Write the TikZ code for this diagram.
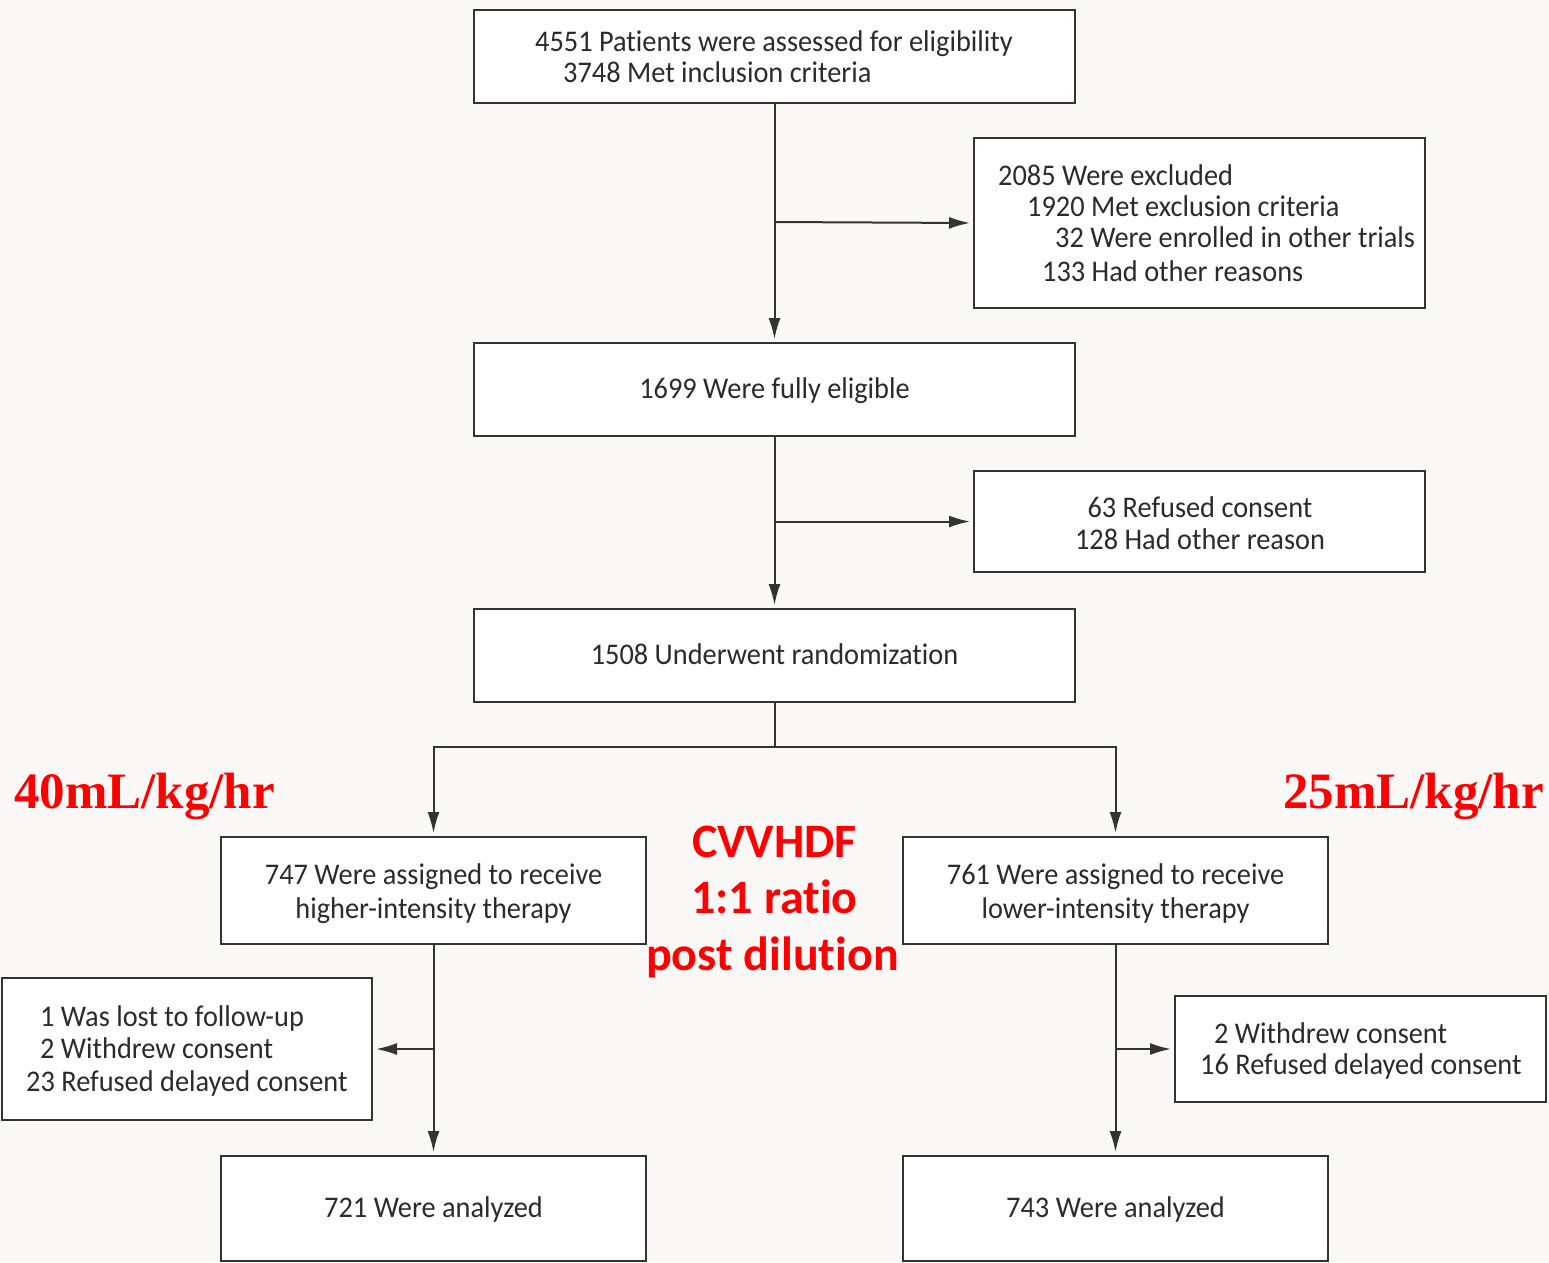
\documentclass[tikz,border=0pt]{standalone}
\usepackage{fontspec}
\usetikzlibrary{arrows.meta}
\newfontfamily\bxfont[FakeStretch=0.945,Ligatures=NoCommon]{Carlito}
\newfontfamily\redsans[Ligatures=NoCommon]{Carlito}
\newfontfamily\redserif{Liberation Serif}
\definecolor{bgc}{HTML}{F9F8F7}
\definecolor{linec}{HTML}{333333}
\definecolor{txtc}{HTML}{2B2B2B}
\definecolor{redc}{HTML}{FF0000}
\tikzset{
  box/.style={draw=linec, line width=2pt, fill=white, inner sep=0pt},
  lbl/.style={inner sep=0pt, text=txtc, font=\bxfont\fontsize{30}{30}\selectfont},
  arr/.style={draw=linec, line width=2pt, -{Latex[length=21pt,width=12pt]}, shorten >=3pt},
  ln/.style={draw=linec, line width=2pt},
  redlbl/.style={inner sep=0pt, text=redc, font=\redsans\bfseries\fontsize{48}{48}\selectfont},
  redser/.style={inner sep=0pt, text=redc, font=\redserif\bfseries\fontsize{51}{51}\selectfont}
}
\begin{document}
\begin{tikzpicture}[x=1pt,y=-1pt]
\fill[bgc] (0,0) rectangle (1549,1262);
\useasboundingbox (0,0) rectangle (1549,1262);

% boxes
\node[box, minimum width=601pt, minimum height=93pt] (b1) at (774.5,56.5) {};
\node[box, minimum width=451pt, minimum height=170pt] (excl) at (1199.5,223) {};
\node[box, minimum width=601pt, minimum height=93pt] (elig) at (774.5,389.5) {};
\node[box, minimum width=451pt, minimum height=101pt] (refu) at (1199.5,521.5) {};
\node[box, minimum width=601pt, minimum height=93pt] (rand) at (774.5,655.5) {};
\node[box, minimum width=425pt, minimum height=107pt] (la) at (433.5,890.5) {};
\node[box, minimum width=425pt, minimum height=107pt] (ra) at (1115.5,890.5) {};
\node[box, minimum width=370pt, minimum height=142pt] (lloss) at (187,1049) {};
\node[box, minimum width=371pt, minimum height=106pt] (rloss) at (1360.5,1049) {};
\node[box, minimum width=425pt, minimum height=105pt] (lan) at (433.5,1208.5) {};
\node[box, minimum width=425pt, minimum height=105pt] (ran) at (1115.5,1208.5) {};

% texts
\node[lbl, anchor=base west] (t1a) at (535,51) {4551 Patients were assessed for eligibility};
\node[lbl, anchor=base west] (t1b) at (563,82) {3748 Met inclusion criteria};
\node[lbl, anchor=base west] (tea) at (998,185) {2085 Were excluded};
\node[lbl, anchor=base west] (teb) at (1027,216) {1920 Met exclusion criteria};
\node[lbl, anchor=base west] (tec) at (1055,247) {32 Were enrolled in other trials};
\node[lbl, anchor=base west] (ted) at (1042,281) {133 Had other reasons};
\node[lbl, anchor=base] (tel) at (774.5,398) {1699 Were fully eligible};
\node[lbl, anchor=base] (tra) at (1200,517) {63 Refused consent};
\node[lbl, anchor=base] (trb) at (1200,549) {128 Had other reason};
\node[lbl, anchor=base] (trn) at (774.5,664) {1508 Underwent randomization};
\node[lbl, anchor=base] (tlaa) at (433.5,884) {747 Were assigned to receive};
\node[lbl, anchor=base] (tlab) at (433.5,918) {higher-intensity therapy};
\node[lbl, anchor=base] (traa) at (1115.5,884) {761 Were assigned to receive};
\node[lbl, anchor=base] (trab) at (1115.5,918) {lower-intensity therapy};
\node[lbl, anchor=base west] (tla) at (40,1026) {1 Was lost to follow-up};
\node[lbl, anchor=base west] (tlb) at (40,1058) {2 Withdrew consent};
\node[lbl, anchor=base west] (tlc) at (26,1091) {23 Refused delayed consent};
\node[lbl, anchor=base west] (trla) at (1214,1043) {2 Withdrew consent};
\node[lbl, anchor=base west] (trlb) at (1200,1074) {16 Refused delayed consent};
\node[lbl, anchor=base] (tlan) at (433.5,1217) {721 Were analyzed};
\node[lbl, anchor=base] (tran) at (1115.5,1217) {743 Were analyzed};

% red annotations
\node[redser, anchor=base west] (r40) at (14,808) {40mL/kg/hr};
\node[redser, anchor=base west] (r25) at (1283,808) {25mL/kg/hr};
\node[redlbl, anchor=base] (rc1) at (774.5,857) {CVVHDF};
\node[redlbl, anchor=base] (rc2) at (774.5,913) {1:1 ratio};
\node[redlbl, anchor=base] (rc3) at (772.5,970) {post dilution};

% connectors
\coordinate (j1) at (774.5,222);
\coordinate (j2) at (774.5,521.5);
\coordinate (sp) at (774.5,747);
\coordinate (lj) at (433.5,1049);
\coordinate (rj) at (1115.5,1049);
\draw[arr] (b1.south) -- (elig.north);
\draw[arr] (j1) -- (excl.west);
\draw[arr] (elig.south) -- (rand.north);
\draw[arr] (j2) -- (refu.west);
\draw[ln] (rand.south) -- (sp);
\draw[arr] (sp) -| (la.north);
\draw[arr] (sp) -| (ra.north);
\draw[arr] (la.south) -- (lan.north);
\draw[arr] (lj) -- (lloss.east);
\draw[arr] (ra.south) -- (ran.north);
\draw[arr] (rj) -- (rloss.west);
\end{tikzpicture}
\end{document}
